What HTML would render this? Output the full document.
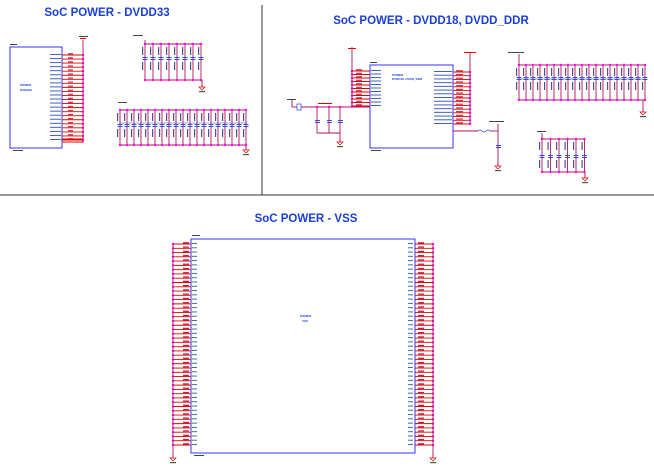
<!DOCTYPE html>
<html><head><meta charset="utf-8"><style>
html,body{margin:0;padding:0;background:#fff;width:654px;height:470px;overflow:hidden}
svg{display:block}
.t{font-family:"Liberation Sans",sans-serif;font-weight:bold;fill:#1a3fd6}
.s{font-family:"Liberation Sans",sans-serif;font-size:3px;fill:#1a3fd6}
</style></head><body>
<svg id="s" width="654" height="470" viewBox="0 0 654 470" xmlns="http://www.w3.org/2000/svg">
<line x1="262" y1="5" x2="262" y2="195" stroke="#333" stroke-width="1"/>
<line x1="0" y1="195" x2="654" y2="195" stroke="#333" stroke-width="1"/>
<text class="t" x="107" y="16" font-size="11.5" text-anchor="middle">SoC POWER - DVDD33</text>
<text class="t" x="431" y="24" font-size="11.5" text-anchor="middle">SoC POWER - DVDD18, DVDD_DDR</text>
<text class="t" x="306" y="222" font-size="11.5" text-anchor="middle">SoC POWER - VSS</text>
<rect x="10" y="47" width="52" height="101" fill="none" stroke="#3333ff" stroke-width="1"/>
<text class="s" x="20" y="86" font-weight="bold">POWER</text><text class="s" x="20" y="91" font-weight="bold">DVDD33</text>
<rect x="370" y="65" width="83" height="83" fill="none" stroke="#3333ff" stroke-width="1"/>
<text class="s" x="392" y="76" font-weight="bold">POWER</text><text class="s" x="392" y="80" font-weight="bold">DVDD18, DVDD_DDR</text>
<rect x="191" y="239" width="224" height="214" fill="none" stroke="#3333ff" stroke-width="1"/>
<text class="s" x="300" y="317" font-weight="bold">POWER</text><text class="s" x="302" y="322" font-weight="bold">VSS</text>
<g id="g"></g>
</svg>
<script>
var g=document.getElementById('g'),h='';
var BUS='#b0105a';
function L(a,b,c,d,col,w){h+='<line x1="'+a+'" y1="'+b+'" x2="'+c+'" y2="'+d+'" stroke="'+col+'" stroke-width="'+(w||0.9)+'"/>';}
function D(x,y){h+='<circle cx="'+x+'" cy="'+y+'" r="1.2" fill="#ff00ff"/>';}
function R(x,y,w,hh,c){h+='<rect x="'+x+'" y="'+y+'" width="'+w+'" height="'+hh+'" fill="'+c+'"/>';}
function GND(x,y){L(x,y-4,x,y,BUS);h+='<path d="M'+(x-3)+' '+y+'L'+(x+3)+' '+y+'L'+x+' '+(y+3)+'Z" fill="none" stroke="#e00000" stroke-width="0.7"/>';R(x-3,y+4,6,1.2,'#3a6a3a');}
for(var i=0;i<22;i++){var y=55+85*i/21;L(62,y,83,y,'#e00000');D(83,y);R(68,y-1.8,5,1.2,'#c03050');R(50,y-1,11,1,'#4060c0');}
L(62,139,83,139,'#e00000');L(62,142,83,142,'#e00000');
L(83,40,83,143,BUS);R(80,38,6,1,'#e00000');R(79,36,9,1,'#444');
function caps(xs,top,bot,plateY){L(xs[0],top,xs[xs.length-1],top,BUS);L(xs[0],bot,xs[xs.length-1],bot,BUS);
 for(var i=0;i<xs.length;i++){var x=xs[i];L(x,top,x,bot,BUS);D(x,top);D(x,bot);R(x-2.5,plateY,5,0.9,'#2040e0');R(x-2.5,plateY+2,5,0.9,'#2040e0');R(x-3,top+3,1.2,8,'#505090');R(x-3,plateY+5,1.2,8,'#505090');}}
var a=[];for(i=0;i<8;i++)a.push(145+i*8);caps(a,44,80,57);GND(202,87);L(202,80,202,87,BUS);L(145,40,145,44,BUS);R(133,35,10,1,'#444');
a=[];for(i=0;i<19;i++)a.push(120+i*7);caps(a,110,145,124);GND(246,150);L(246,145,246,150,BUS);R(118,102,9,1,'#444');
L(119,123,247,123,'#3050d0',0.6);
for(i=0;i<11;i++){y=71+35*i/10;L(352,y,370,y,'#e00000');D(352,y);R(356,y-1.8,6,1.2,'#c03050');R(371,y-1,10,1,'#4060c0');}
L(352,47,352,106,BUS);R(348,48,8,1,'#e00000');
for(i=0;i<15;i++){y=72+52*i/14;L(453,y,470,y,'#e00000');D(470,y);R(456,y-1.8,7,1.2,'#c03050');R(434,y-1,18,1,'#4060c0');}
L(470,53,470,124,BUS);R(464,52,12,1,'#e00000');
L(453,131,478,131,BUS);h+='<path d="M478 131 q2 -2 4 0 q2 2 4 0 q2 -2 4 0" fill="none" stroke="#3050d0" stroke-width="0.7"/>';L(490,131,498,131,BUS);L(498,124,498,166,BUS);R(496,145,5,1,'#2040e0');R(496,147,5,1,'#2040e0');GND(498,166);R(489,121,15,1,'#444');
L(292,107,297,107,BUS);h+='<rect x="297" y="104" width="4" height="6" fill="none" stroke="#2040e0" stroke-width="0.7"/>';L(301,107,370,107,BUS);L(292,100,292,107,BUS);R(287,99,9,1,'#444');
[317,329,340].forEach(function(x){L(x,107,x,133,BUS);D(x,107);R(x-2,120,5,0.9,'#2040e0');R(x-2,122,5,0.9,'#2040e0');});L(317,133,340,133,BUS);GND(340,142);L(340,133,340,142,BUS);R(318,103,14,1,'#e00000');
a=[];for(i=0;i<19;i++)a.push(519+i*7);caps(a,65,100,77);GND(643,112);L(643,100,643,112,BUS);L(519,54,519,65,BUS);R(508,52,16,1,'#444');L(517,79,643,79,'#3050d0',0.6);
a=[];for(i=0;i<6;i++)a.push(542+i*8.5);caps(a,139,172,155);GND(585,178);L(585,172,585,178,BUS);L(542,133,542,139,BUS);R(537,131,9,1,'#444');
for(i=0;i<48;i++){y=244+201*i/47;L(173,y,191,y,'#e00000');D(173,y);R(183,y-1.8,6,1.3,'#c02040');R(192,y-1,5,1,'#3a70a0');
 L(415,y,433,y,'#e00000');D(433,y);R(418,y-1.8,6,1.3,'#c02040');R(408,y-1,5,1,'#3a70a0');}
L(173,244,173,456,BUS);L(433,244,433,456,BUS);GND(173,458);GND(433,458);
R(192,235,8,1,'#444');R(194,455,10,1,'#444');R(13,150,10,1,'#444');R(371,150,10,1,'#444');R(10,44,7,1,'#444');R(370,62,7,1,'#444');
g.innerHTML=h;
</script>
</body></html>
